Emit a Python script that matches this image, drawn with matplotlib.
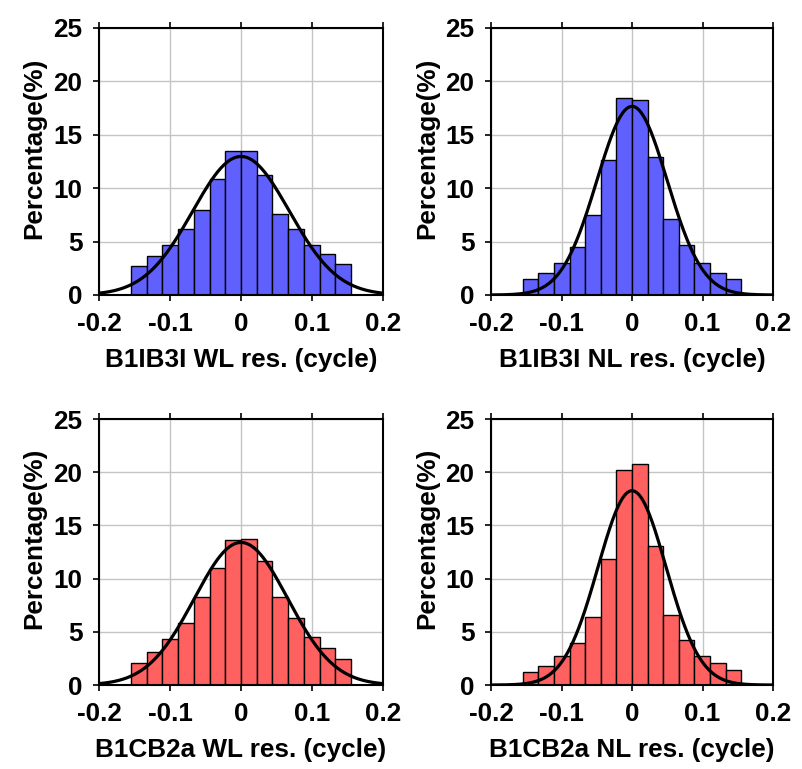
import numpy as np
import matplotlib.pyplot as plt

# ===== DATA =====
bin_edges = np.linspace(-0.155, 0.155, 15)

wl_b1ib3i = [2.75, 3.66, 4.69, 6.16, 8.0, 10.84, 13.5, 13.5, 11.25, 7.6, 6.16, 4.69, 3.81, 2.88]
nl_b1ib3i = [1.47, 2.09, 2.97, 4.53, 7.47, 12.66, 18.47, 18.25, 12.9, 7.09, 4.69, 2.97, 2.09, 1.47]
wl_b1cb2a = [2.1, 3.14, 4.33, 5.87, 8.25, 11.04, 13.65, 13.77, 11.67, 8.25, 6.27, 4.55, 3.51, 2.48]
nl_b1cb2a = [1.25, 1.79, 2.73, 3.92, 6.43, 11.83, 20.23, 20.77, 13.11, 6.56, 4.2, 2.73, 2.1, 1.41]

# normal fit: (peak %, sigma cycle)
fit_params = [(12.97, 0.0679), (17.66, 0.0499), (13.4, 0.0658), (18.26, 0.0483)]

xlabels = ['B1IB3I WL res. (cycle)', 'B1IB3I NL res. (cycle)',
           'B1CB2a WL res. (cycle)', 'B1CB2a NL res. (cycle)']
colors = ['#6060ff', '#6060ff', '#ff6060', '#ff6060']

# ===== PLOT =====
plt.rcParams['font.family'] = ['Liberation Sans', 'DejaVu Sans']
plt.rcParams['font.weight'] = 'bold'
FS = 18.8

fig = plt.figure(figsize=(8.03, 7.69), dpi=100)
positions = [
    (0.1233, 0.6164, 0.3537, 0.3472),
    (0.6115, 0.6164, 0.3512, 0.3472),
    (0.1233, 0.1092, 0.3537, 0.3459),
    (0.6115, 0.1092, 0.3512, 0.3459),
]
all_data = [wl_b1ib3i, nl_b1ib3i, wl_b1cb2a, nl_b1cb2a]

xs = np.linspace(-0.2, 0.2, 400)
for pos, vals, (peak, sig), lab, col in zip(positions, all_data, fit_params, xlabels, colors):
    ax = fig.add_axes(pos)
    widths = np.diff(bin_edges)
    ax.bar(bin_edges[:-1], vals, width=widths, align='edge', color=col,
           edgecolor='black', linewidth=1.0, zorder=2)
    ax.plot(xs, peak * np.exp(-0.5 * (xs / sig) ** 2), color='black', lw=2.3, zorder=3)
    ax.set_xlim(-0.2, 0.2)
    ax.set_ylim(0, 25)
    ax.set_xticks([-0.2, -0.1, 0, 0.1, 0.2])
    ax.set_xticklabels(['-0.2', '-0.1', '0', '0.1', '0.2'])
    ax.set_yticks([0, 5, 10, 15, 20, 25])
    ax.grid(True, color='#c4c4c4', linewidth=1.0, zorder=0)
    ax.set_axisbelow(True)
    ax.tick_params(axis='both', labelsize=FS, direction='out', length=4, width=1.2)
    ax.tick_params(axis='x', top=True, pad=8)
    ax.tick_params(axis='y', pad=8)
    for sp in ax.spines.values():
        sp.set_linewidth(1.5)
    ax.set_xlabel(lab, fontsize=FS, fontweight='bold', labelpad=9)
    ax.set_ylabel('Percentage(%)', fontsize=FS, fontweight='bold')
    ax.yaxis.set_label_coords(-0.185, 0.55)

fig.savefig('out.png', dpi=100)
